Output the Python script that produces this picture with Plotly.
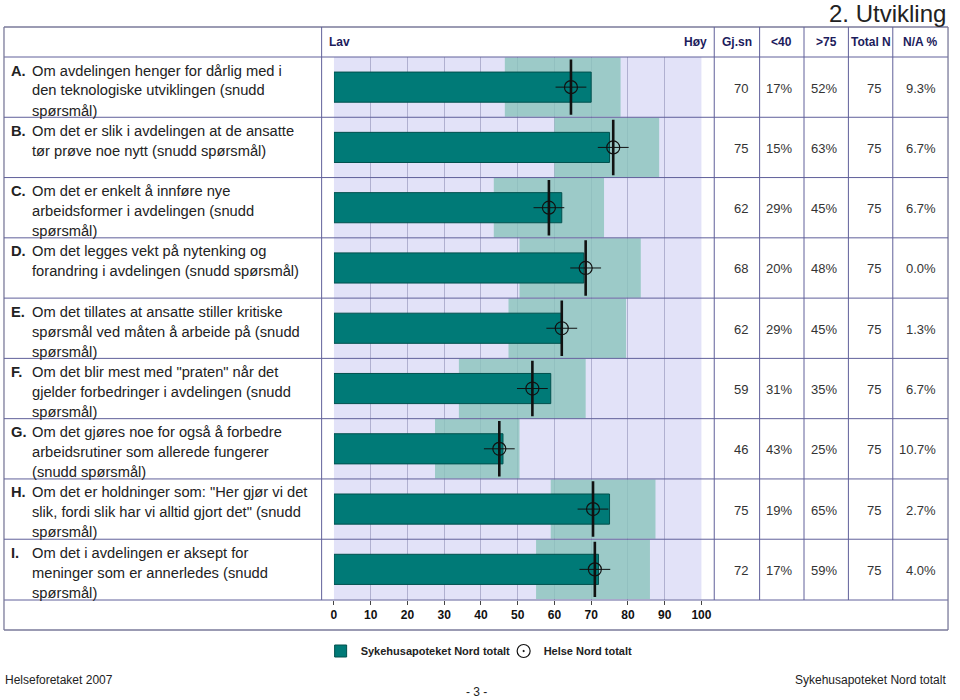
import plotly.graph_objects as go

W, H = 960, 700
FONT = "Liberation Sans, Arial, sans-serif"
NARROW = "Liberation Sans Narrow, Liberation Sans, Arial, sans-serif"

letters = ["A", "B", "C", "D", "E", "F", "G", "H", "I"]
question_lines = [
    ["Om avdelingen henger for dårlig med i", "den teknologiske utviklingen (snudd", "spørsmål)"],
    ["Om det er slik i avdelingen at de ansatte", "tør prøve noe nytt (snudd spørsmål)"],
    ["Om det er enkelt å innføre nye", "arbeidsformer i avdelingen (snudd", "spørsmål)"],
    ["Om det legges vekt på nytenking og", "forandring i avdelingen (snudd spørsmål)"],
    ["Om det tillates at ansatte stiller kritiske", "spørsmål ved måten å arbeide på (snudd", "spørsmål)"],
    ["Om det blir mest med \"praten\" når det", "gjelder forbedringer i avdelingen (snudd", "spørsmål)"],
    ["Om det gjøres noe for også å forbedre", "arbeidsrutiner som allerede fungerer", "(snudd spørsmål)"],
    ["Om det er holdninger som: \"Her gjør vi det", "slik, fordi slik har vi alltid gjort det\" (snudd", "spørsmål)"],
    ["Om det i avdelingen er aksept for", "meninger som er annerledes (snudd", "spørsmål)"],
]
gjsn = [70, 75, 62, 68, 62, 59, 46, 75, 72]
band_low = [46.5, 60, 43.5, 50.5, 47.5, 34, 27.5, 59, 55]
band_high = [78, 88.5, 73.5, 83.5, 79.5, 68.5, 50.5, 87.5, 86]
helse_nord = [64.5, 76, 58.5, 68.5, 62, 54, 45, 70.5, 71]
under40 = ["17%", "15%", "29%", "20%", "29%", "31%", "43%", "19%", "17%"]
over75 = ["52%", "63%", "45%", "48%", "45%", "35%", "25%", "65%", "59%"]
total_n = [75, 75, 75, 75, 75, 75, 75, 75, 75]
na_pct = ["9.3%", "6.7%", "6.7%", "0.0%", "1.3%", "6.7%", "10.7%", "2.7%", "4.0%"]
tick_vals = [0, 10, 20, 30, 40, 50, 60, 70, 80, 90, 100]
header_cols = ["Gj.sn", "<40", ">75", "Total N", "N/A %"]

n = len(letters)
ypos = [i + 0.5 for i in range(n)]


def px(x):
    return x / W


def py(y):
    return 1 - y / H


PLOT_L, PLOT_R, PLOT_T, PLOT_B = 335.5, 708.0, 57.0, 599.5
ROW_H = (PLOT_B - PLOT_T) / n

TEAL = "#007a77"
BAND = "rgba(139,196,187,0.8)"
LAV = "#e2e2f8"
GRID = "#b0b0d0"
LINE = "#60609a"
NAVY = "#1c1c5c"
TXT = "#222222"

fig = go.Figure()

fig.add_trace(go.Bar(
    y=ypos, x=[h - l for h, l in zip(band_high, band_low)], base=band_low,
    orientation="h", width=0.985, marker=dict(color=BAND, line=dict(width=0)),
    showlegend=False, hoverinfo="skip"))
fig.add_trace(go.Bar(
    y=ypos, x=gjsn, orientation="h", width=0.5, name="<b>Sykehusapoteket Nord totalt</b>",
    marker=dict(color=TEAL, line=dict(color="#00504d", width=1))))
fig.add_trace(go.Scatter(
    y=ypos, x=helse_nord, mode="markers", showlegend=False, hoverinfo="skip",
    marker=dict(symbol="line-ew", size=22, line=dict(color="#111", width=1))))
fig.add_trace(go.Scatter(
    y=ypos, x=helse_nord, mode="markers", name="<b>Helse Nord totalt</b>",
    marker=dict(symbol="circle-dot", size=13, color="rgba(0,0,0,0)",
                line=dict(color="#111", width=1.2)),
    error_y=dict(type="constant", value=0.46, thickness=2.6, width=0, color="#111")))

shapes = []


def hline(y, x0, x1, color=LINE, w=1):
    shapes.append(dict(type="line", xref="paper", yref="paper", x0=px(x0), x1=px(x1),
                       y0=py(y), y1=py(y), line=dict(color=color, width=w), layer="above"))


def vline(x, y0, y1, color=LINE, w=1):
    shapes.append(dict(type="line", xref="paper", yref="paper", x0=px(x), x1=px(x),
                       y0=py(y0), y1=py(y1), line=dict(color=color, width=w), layer="above"))


# frame
hline(27, 1, 958, "#7a7a9a", 1.3)
hline(57, 1, 958)
hline(600, 1, 958)
hline(630, 1, 958, "#7a7a9a", 1.3)
vline(1, 27, 630, "#7a7a9a", 1.3)
vline(958, 27, 630, "#7a7a9a", 1.3)
vline(323, 27, 600)
for xc in [721, 767, 812, 857, 902]:
    vline(xc, 27, 600)
for i in range(1, n):
    hline(PLOT_T + i * ROW_H, 1, 958)

annotations = []
# title
annotations.append(dict(text="2. Utvikling", xref="paper", yref="paper", x=px(958), y=py(13),
                        xanchor="right", yanchor="middle", showarrow=False,
                        font=dict(family=FONT, size=24, color=TXT)))
# header
hdr_font = dict(family=FONT, size=12, color=NAVY)
annotations.append(dict(text="<b>Lav</b>", xref="paper", yref="paper", x=px(328), y=py(42),
                        xanchor="left", yanchor="middle", showarrow=False, font=hdr_font))
annotations.append(dict(text="<b>Høy</b>", xref="paper", yref="paper", x=px(716), y=py(42),
                        xanchor="right", yanchor="middle", showarrow=False, font=hdr_font))
col_edges = [721, 767, 812, 857, 902, 958]
for j, lab in enumerate(header_cols):
    cx = (col_edges[j] + col_edges[j + 1]) / 2
    annotations.append(dict(text="<b>%s</b>" % lab.replace("<", "&lt;").replace(">", "&gt;"),
                            xref="paper", yref="paper", x=px(cx), y=py(42),
                            xanchor="center", yanchor="middle", showarrow=False, font=hdr_font))

# question labels
lab_font = dict(family=FONT, size=14.7, color=TXT)
for i in range(n):
    top = PLOT_T + i * ROW_H
    annotations.append(dict(text="<b>%s.</b>" % letters[i], xref="paper", yref="paper",
                            x=px(6), y=py(top + 13.5), xanchor="left", yanchor="middle",
                            showarrow=False, font=lab_font))
    for k, line in enumerate(question_lines[i]):
        annotations.append(dict(text=line, xref="paper", yref="paper",
                                x=px(27), y=py(top + 13.5 + 20 * k), xanchor="left",
                                yanchor="middle", showarrow=False, font=lab_font))

# right table values
val_font = dict(family=FONT, size=13, color="#333333")
for i in range(n):
    cy = PLOT_T + (i + 0.5) * ROW_H
    vals = [str(gjsn[i]), under40[i], over75[i], str(total_n[i]), na_pct[i]]
    for j, v in enumerate(vals):
        annotations.append(dict(text=v, xref="paper", yref="paper",
                                x=px(col_edges[j + 1] - 10), y=py(cy + 1),
                                xanchor="right", yanchor="middle", showarrow=False,
                                font=val_font))

# footer
foot_font = dict(family=NARROW, size=12, color=TXT)
annotations.append(dict(text="Helseforetaket 2007", xref="paper", yref="paper", x=px(0), y=py(680),
                        xanchor="left", yanchor="middle", showarrow=False, font=foot_font))
annotations.append(dict(text="Sykehusapoteket Nord totalt", xref="paper", yref="paper", x=px(958),
                        y=py(680), xanchor="right", yanchor="middle", showarrow=False,
                        font=foot_font))
annotations.append(dict(text="- 3 -", xref="paper", yref="paper", x=px(480), y=py(692),
                        xanchor="center", yanchor="middle", showarrow=False, font=foot_font))

fig.update_layout(
    width=W, height=H, margin=dict(l=0, r=0, t=0, b=0),
    paper_bgcolor="white", plot_bgcolor=LAV, barmode="overlay",
    font=dict(family=FONT, color=TXT),
    xaxis=dict(domain=[px(PLOT_L), px(PLOT_R)], range=[0, 100], tickvals=tick_vals,
               ticktext=["<b>%d</b>" % v for v in tick_vals], showgrid=True, gridcolor=GRID,
               gridwidth=1, zeroline=False, ticks="outside", ticklen=4, tickcolor="#444",
               tickfont=dict(family=FONT, size=12, color="#111"), showline=False,
               fixedrange=True),
    yaxis=dict(domain=[py(PLOT_B), py(PLOT_T)], range=[n, 0], showticklabels=False,
               showgrid=False, zeroline=False, ticks="", fixedrange=True),
    showlegend=True,
    legend=dict(orientation="h", x=px(322), y=py(651), xanchor="left", yanchor="middle",
                font=dict(family=FONT, size=11, color=TXT), bgcolor="rgba(0,0,0,0)",
                itemwidth=30, traceorder="normal", entrywidth=138, entrywidthmode="pixels"),
    shapes=shapes, annotations=annotations,
)

fig.write_html("out.html", config={"displayModeBar": False},
               post_script="document.body.style.margin='0';document.body.style.overflow='hidden';")
